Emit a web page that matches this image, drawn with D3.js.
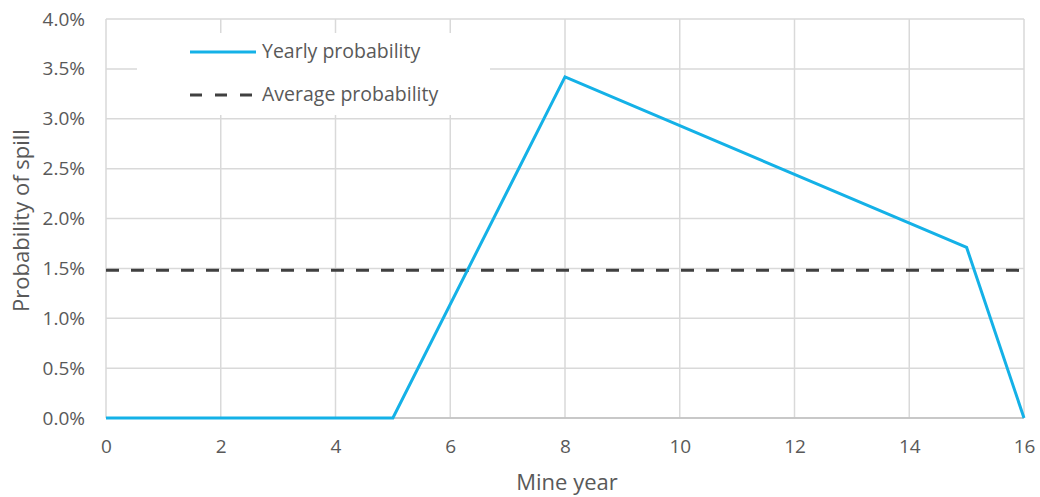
<!DOCTYPE html>
<html>
<head>
<meta charset="utf-8">
<script src="https://cdn.jsdelivr.net/npm/d3@7"></script>
<style>
  html, body { margin: 0; padding: 0; background: #fff; }
  svg { display: block; font-family: "Open Sans", "Noto Sans", sans-serif; }
</style>
</head>
<body>
<svg id="chart" width="1040" height="497"></svg>
<script>
// Yearly spill probability over the mine life (vertices of the line, in %)
const mineYears = [0, 5, 8, 15, 16];
const yearlyProbability = [0, 0, 3.42, 1.71, 0];
// Average probability across the mine life (%)
const averageProbability = 1.48;

const xTicks = [0, 2, 4, 6, 8, 10, 12, 14, 16];
const yTicks = [0, 0.5, 1.0, 1.5, 2.0, 2.5, 3.0, 3.5, 4.0];
const seriesNames = ["Yearly probability", "Average probability"];

const svg = d3.select("#chart");
const margin = { left: 106, right: 16, top: 19, bottom: 79 };
const W = 1040, H = 497;

const x = d3.scaleLinear().domain([0, 16]).range([margin.left, W - margin.right]);
const y = d3.scaleLinear().domain([0, 4]).range([H - margin.bottom, margin.top]);

const textColor = "#595959";
const gridColor = "#d9d9d9";
const tickFont = "19px";
const legendFont = "19.5px";
const titleFont = "22px";

// Horizontal gridlines
svg.append("g")
  .selectAll("line")
  .data(yTicks)
  .join("line")
  .attr("x1", x(0)).attr("x2", x(16))
  .attr("y1", d => y(d)).attr("y2", d => y(d))
  .attr("stroke", gridColor).attr("stroke-width", 1.5);

// Vertical gridlines
svg.append("g")
  .selectAll("line")
  .data(xTicks)
  .join("line")
  .attr("x1", d => x(d)).attr("x2", d => x(d))
  .attr("y1", y(0)).attr("y2", y(4))
  .attr("stroke", gridColor).attr("stroke-width", 1.5);

// Baseline
svg.append("line")
  .attr("x1", x(0)).attr("x2", x(16))
  .attr("y1", y(0)).attr("y2", y(0))
  .attr("stroke", "#bfbfbf").attr("stroke-width", 1.5);

// Y axis labels
const yAxis = d3.axisLeft(y).tickValues(yTicks)
  .tickFormat(d => d.toFixed(1) + "%").tickSize(0).tickPadding(21);
const gy = svg.append("g").attr("transform", `translate(${margin.left},0)`).call(yAxis);
gy.select(".domain").remove();
gy.selectAll("text").attr("fill", textColor).style("font-size", tickFont)
  .style("font-family", "\"Open Sans\", sans-serif");

// X axis labels
const xAxis = d3.axisBottom(x).tickValues(xTicks).tickSize(0).tickPadding(22);
const gx = svg.append("g").attr("transform", `translate(0,${y(0)})`).call(xAxis);
gx.select(".domain").remove();
gx.selectAll("text").attr("fill", textColor).style("font-size", tickFont)
  .style("font-family", "\"Open Sans\", sans-serif");

// Axis titles
svg.append("text")
  .attr("x", (x(0) + x(16)) / 2 + 2).attr("y", 490)
  .attr("text-anchor", "middle").attr("fill", textColor)
  .style("font-size", titleFont).text("Mine year");

svg.append("text")
  .attr("transform", `translate(29,${(y(0) + y(4)) / 2 + 2}) rotate(-90)`)
  .attr("text-anchor", "middle").attr("fill", textColor)
  .style("font-size", titleFont).text("Probability of spill");

// Average probability (dashed)
svg.append("line")
  .attr("x1", x(0)).attr("x2", x(16))
  .attr("y1", y(averageProbability)).attr("y2", y(averageProbability))
  .attr("stroke", "#404040").attr("stroke-width", 3)
  .attr("stroke-dasharray", "13 12");

// Yearly probability line
const line = d3.line().x(d => x(d[0])).y(d => y(d[1]));
svg.append("path")
  .datum(mineYears.map((m, i) => [m, yearlyProbability[i]]))
  .attr("d", line)
  .attr("fill", "none")
  .attr("stroke", "#14b1e7")
  .attr("stroke-width", 3)
  .attr("stroke-linejoin", "miter");

// Legend
const legend = svg.append("g");
legend.append("rect")
  .attr("x", 137).attr("y", 33).attr("width", 353).attr("height", 82)
  .attr("fill", "#fff");
const legendItems = [
  { name: seriesNames[0], color: "#14b1e7", dash: null, cy: 52 },
  { name: seriesNames[1], color: "#404040", dash: "12 13", cy: 95 }
];
legendItems.forEach(item => {
  legend.append("line")
    .attr("x1", 190).attr("x2", 256)
    .attr("y1", item.cy).attr("y2", item.cy)
    .attr("stroke", item.color).attr("stroke-width", 3)
    .attr("stroke-dasharray", item.dash);
  legend.append("text")
    .attr("x", 262).attr("y", item.cy + 6)
    .attr("fill", textColor).style("font-size", legendFont)
    .text(item.name);
});
</script>
</body>
</html>
